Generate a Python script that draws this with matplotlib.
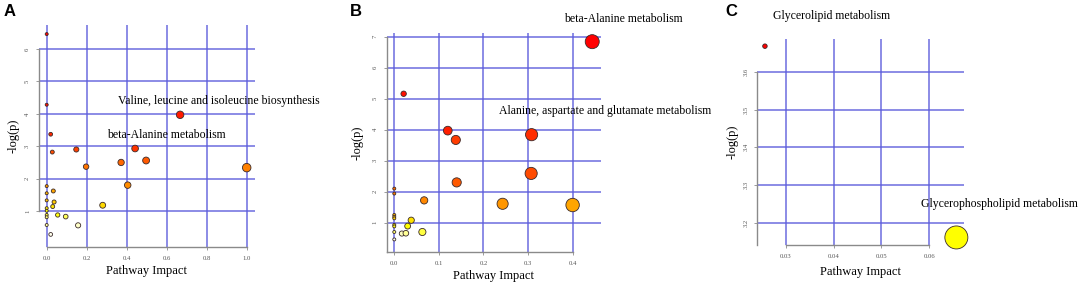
import colorsys
import matplotlib
matplotlib.use("Agg")
import matplotlib.pyplot as plt
import numpy as np

# panel A
impact_a = [0, 0, 0.02, 0.028, 0.148, 0.197, 0.372, 0.442, 0.497, 0.667, 1.0, 0.405, 0.28,
            0.033, 0.037, 0.03, 0.055, 0.095, 0.157, 0.02, 0, 0, 0, 0, 0, 0, 0, 0]
logp_a = [6.46, 4.28, 3.37, 2.82, 2.9, 2.37, 2.5, 2.93, 2.56, 3.97, 2.34, 1.8, 1.18,
          1.62, 1.28, 1.14, 0.88, 0.83, 0.56, 0.28, 1.77, 1.55, 1.33, 1.09, 1.01, 0.88, 0.81, 0.57]
labels_a = ["Valine, leucine and isoleucine biosynthesis", "beta-Alanine metabolism"]

# panel B
impact_b = [0.444, 0.021, 0.12, 0.138, 0.308, 0.307, 0.14, 0.067, 0.243, 0.4, 0, 0, 0.038,
            0.03, 0.063, 0.017, 0.026, 0, 0, 0, 0, 0, 0, 0]
logp_b = [6.84, 5.16, 3.97, 3.67, 3.84, 2.59, 2.3, 1.72, 1.61, 1.57, 2.1, 1.94, 1.08,
          0.89, 0.7, 0.65, 0.66, 0.46, 1.25, 1.19, 1.14, 0.93, 0.88, 0.70]
labels_b = ["beta-Alanine metabolism", "Alanine, aspartate and glutamate metabolism"]

# panel C
impact_c = [0.0256, 0.0657]
logp_c = [3.668, 3.161]
labels_c = ["Glycerolipid metabolism", "Glycerophospholipid metabolism"]

W, H = 1084, 286
SERIF = "Liberation Serif"
GRID = "#5c5cdc"
LBL = 8.5


def heat_colors(n):
    # like R's heat.colors
    j = n // 4
    i = n - j
    cols = []
    for k in range(i):
        h = (k / (i - 1) if i > 1 else 0) * (1 / 6)
        cols.append(colorsys.hsv_to_rgb(h, 1, 1))
    if j > 0:
        for s in np.linspace(1 - 1 / (2 * j), 1 / (2 * j), j):
            cols.append(colorsys.hsv_to_rgb(1 / 6, s, 1))
    return cols


def make_ax(fig, left, right, top, bottom):
    return fig.add_axes([left / W, 1 - bottom / H, (right - left) / W, (bottom - top) / H])


def panel(ax, box, imp, lp, dmin, dmax, xlim, ylim, xticks, yticks, xfmt, yfmt, xb, yb,
          ylab_x, xlab_y):
    left, right, top, bottom = box
    imp = np.array(imp)
    lp = np.array(lp)
    order = np.argsort(-lp)
    cols = heat_colors(len(lp))
    colors = [None] * len(lp)
    for r, idx in enumerate(order):
        colors[idx] = cols[r]
    t = (imp - imp.min()) / (imp.max() - imp.min())
    diam = dmin + (dmax - dmin) * np.sqrt(t)
    sizes = (diam * 0.72) ** 2
    ax.set_axisbelow(True)
    ax.scatter(imp, lp, s=sizes, c=colors, edgecolors="#3a2a2a", linewidths=0.6,
               zorder=3, clip_on=False)
    ax.set_xlim(xlim)
    ax.set_ylim(ylim)
    ax.set_xticks(xticks)
    ax.set_yticks(yticks)
    ax.set_xticklabels([xfmt % v for v in xticks])
    ax.set_yticklabels([yfmt % v for v in yticks], rotation=90, va="center")
    ax.grid(True, color=GRID, linewidth=1.1, alpha=0.9)
    for s in ["top", "right"]:
        ax.spines[s].set_visible(False)
    for s in ["left", "bottom"]:
        ax.spines[s].set_color("#8a8a8a")
        ax.spines[s].set_linewidth(1.0)
    ax.spines["bottom"].set_bounds(*xb)
    ax.spines["left"].set_bounds(*yb)
    ax.tick_params(length=2.5, width=0.6, color="#8a8a8a", labelsize=4.8,
                   labelcolor="#555555", pad=4)
    for tl in ax.get_xticklabels() + ax.get_yticklabels():
        tl.set_family(SERIF)
    ax.set_xlabel("Pathway Impact", family=SERIF, fontsize=9)
    ax.set_ylabel("-log(p)", family=SERIF, fontsize=9)
    # label positions in pixels, relative to the axes box
    ax.xaxis.set_label_coords(0.5, -(xlab_y - bottom) / (bottom - top))
    ax.yaxis.set_label_coords(-(left - ylab_x) / (right - left), 0.5)
    ax.xaxis.label.set_va("center")
    ax.yaxis.label.set_va("center")
    ax.patch.set_alpha(0)


fig = plt.figure(figsize=(W / 100, H / 100), dpi=100)

# A
box = (39, 255, 25, 247)
ax = make_ax(fig, *box)
panel(ax, box, impact_a, logp_a, 3.0, 8.5, (-0.0385, 1.0415), (-0.108, 6.74),
      [0, 0.2, 0.4, 0.6, 0.8, 1.0], [1, 2, 3, 4, 5, 6], "%.1f", "%d",
      (0, 1.0), (1, 6), 14, 271)
ax.text(0.357, 4.4, labels_a[0], family=SERIF, fontsize=LBL, va="center", clip_on=False)
ax.text(0.30, 3.35, labels_a[1], family=SERIF, fontsize=LBL, va="center", clip_on=False)

# B
box = (386.7, 600.7, 33, 252.3)
ax = make_ax(fig, *box)
panel(ax, box, impact_b, logp_b, 3.0, 14.0, (-0.017, 0.463), (0.045, 7.12),
      [0, 0.1, 0.2, 0.3, 0.4], [1, 2, 3, 4, 5, 6, 7], "%.1f", "%d",
      (-0.017, 0.4), (0.045, 7), 358, 276)
ax.text(0.3805, 7.57, labels_b[0], family=SERIF, fontsize=LBL, va="center", clip_on=False)
ax.text(0.235, 4.6, labels_b[1], family=SERIF, fontsize=LBL, va="center", clip_on=False)

# C
box = (757.3, 964, 39, 245)
ax = make_ax(fig, *box)
panel(ax, box, impact_c, logp_c, 4.5, 23.0, (0.024, 0.0673), (3.141, 3.687),
      [0.03, 0.04, 0.05, 0.06], [3.2, 3.3, 3.4, 3.5, 3.6], "%.2f", "%.1f",
      (0.03, 0.06), (3.141, 3.6), 733, 272)
ax.text(0.02727, 3.7475, labels_c[0], family=SERIF, fontsize=LBL, va="center", clip_on=False)
ax.text(0.0583, 3.2495, labels_c[1], family=SERIF, fontsize=LBL, va="center", clip_on=False)

for letter, x in [("A", 10), ("B", 356), ("C", 731)]:
    fig.text(x / W, 1 - 11 / H, letter, family="Liberation Sans", fontsize=12,
             fontweight="bold", ha="center", va="center")

fig.savefig("out.png", dpi=100)
